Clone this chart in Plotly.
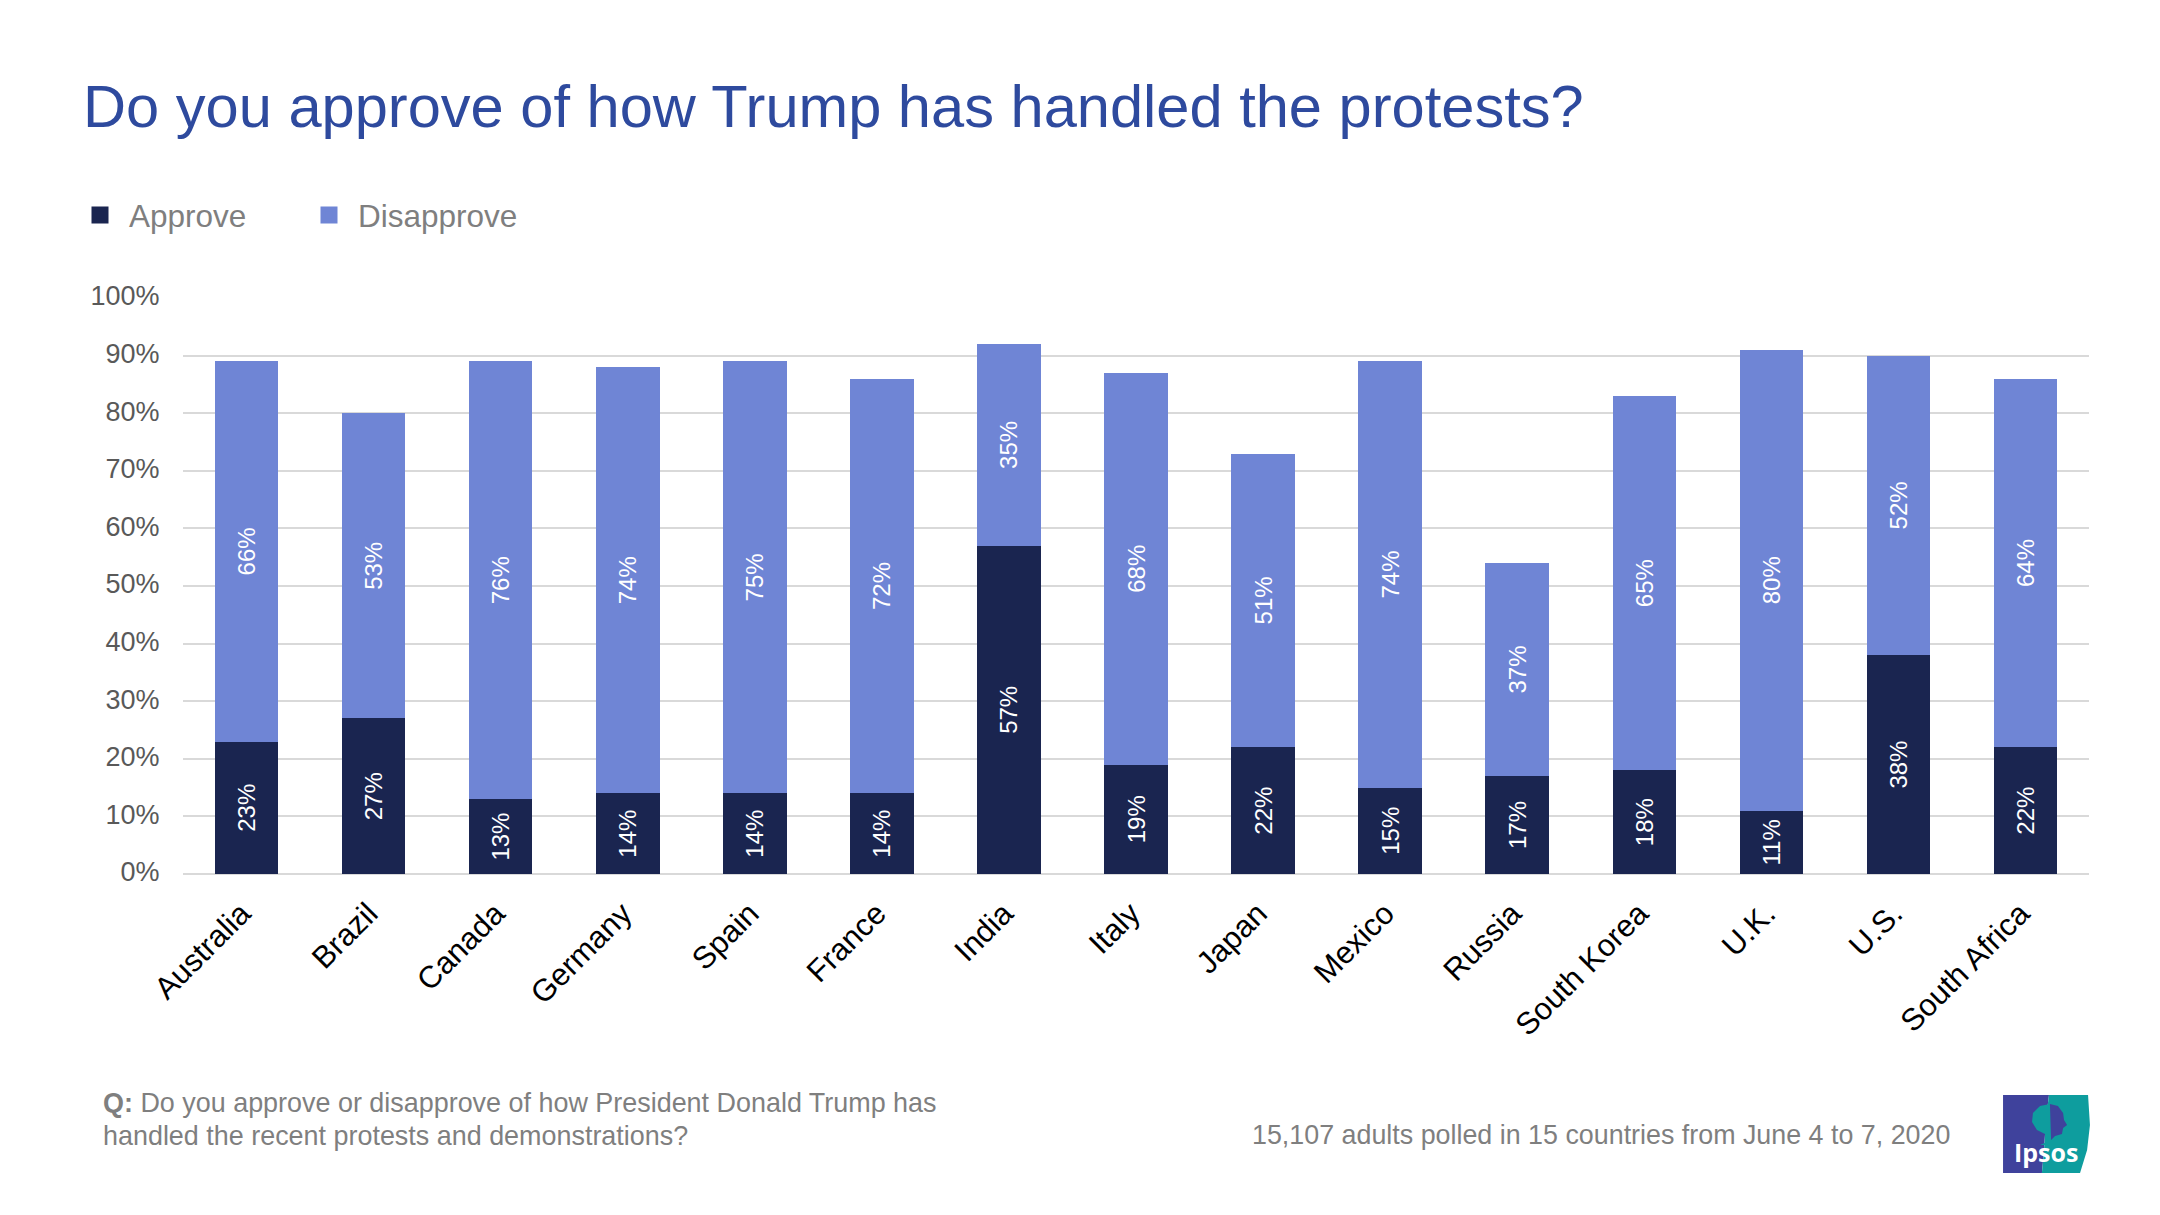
#!/usr/bin/env python3

import plotly.graph_objects as go

countries = ['Australia', 'Brazil', 'Canada', 'Germany', 'Spain', 'France', 'India', 'Italy',
             'Japan', 'Mexico', 'Russia', 'South Korea', 'U.K.', 'U.S.', 'South Africa']
approve = [23, 27, 13, 14, 14, 14, 57, 19, 22, 15, 17, 18, 11, 38, 22]
disapprove = [66, 53, 76, 74, 75, 72, 35, 68, 51, 74, 37, 65, 80, 52, 64]
y_ticks = [0, 10, 20, 30, 40, 50, 60, 70, 80, 90, 100]
y_tick_labels = ['0%', '10%', '20%', '30%', '40%', '50%', '60%', '70%', '80%', '90%', '100%']

NAVY = '#1A2550'
PERIWINKLE = '#6F85D5'
FONT = 'Liberation Sans'

# plot area in page pixels, everything outside it is placed relative to this
LEFT, RIGHT, TOP, BOTTOM = 183, 2089, 298, 874


def px_x(x):
    return (x - LEFT) / (RIGHT - LEFT)


def px_y(y):
    return (BOTTOM - y) / (BOTTOM - TOP)


def note(text, x, y, size, color='#7F7F7F', xanchor='left', family=FONT):
    return dict(text=text, xref='paper', yref='paper', x=px_x(x), y=px_y(y), showarrow=False,
                xanchor=xanchor, yanchor='middle', align='left',
                font=dict(family=family, size=size, color=color))


def logo_path(points):
    xy = [f'{px_x(x):.4f},{px_y(y):.4f}' for x, y in points]
    return 'M' + ' L'.join(xy) + ' Z'


fig = go.Figure()

for name, values, color in [('Approve', approve, NAVY), ('Disapprove', disapprove, PERIWINKLE)]:
    # labels are plain text: %{y} would pick up the ticktext wherever a value sits on a tick
    fig.add_trace(go.Bar(
        x=countries, y=values, name=name, legendgroup=name, showlegend=False,
        marker=dict(color=color, line_width=0),
        text=[f'{v}%' for v in values], textposition='inside', insidetextanchor='middle',
        textangle=-90, constraintext='none',
        textfont=dict(family=FONT, size=24, color='white'),
        hovertemplate='%{x}: %{text}<extra>' + name + '</extra>',
    ))
    # the legend swatch only gets its size from the outline, so it has its own empty trace
    fig.add_trace(go.Bar(
        x=countries[:1], y=[None], name=name, legendgroup=name,
        marker=dict(color=color, line=dict(color=color, width=5)),
    ))

blue_part = [(2003, 1095), (2049, 1095), (2046, 1120), (2044, 1150), (2042, 1173), (2003, 1173)]
teal_part = [(2049, 1095), (2088, 1095), (2090, 1125), (2087, 1150), (2080, 1173), (2042, 1173),
             (2044, 1150), (2046, 1120)]
crown = [(2050, 1104), (2040, 1106), (2033, 1113), (2032, 1122), (2037, 1130), (2045, 1134),
         (2047, 1142), (2040, 1145), (2058, 1145), (2052, 1140), (2052, 1104)]
profile = [(2050, 1104), (2058, 1106), (2063, 1113), (2064, 1120), (2067, 1125), (2063, 1128),
           (2062, 1134), (2055, 1136), (2051, 1140)]

shapes = [dict(type='path', path=logo_path(points), xref='paper', yref='paper',
               fillcolor=color, line_width=0)
          for points, color in [(blue_part, '#3F429C'), (teal_part, '#0E9D9E'),
                                (crown, '#0E9D9E'), (profile, '#3F429C')]]

annotations = [
    note('Do you approve of how Trump has handled the protests?', 81, 106, 59.6, color='#2E4A9E'),
    note('<b>Q:</b> Do you approve or disapprove of how President Donald Trump has',
         101, 1103, 26.93),
    note('handled the recent protests and demonstrations?', 101, 1136, 26.93),
    note('15,107 adults polled in 15 countries from June 4 to 7, 2020', 1952, 1135, 26.85,
         xanchor='right'),
    note('<b>Ipsos</b>', 2046, 1152, 25, color='white', xanchor='center', family='Open Sans'),
]

fig.update_layout(
    width=2160, height=1215,
    margin=dict(l=LEFT, r=2160 - RIGHT, t=TOP, b=1215 - BOTTOM),
    paper_bgcolor='white', plot_bgcolor='white',
    barmode='stack', bargap=0.5,
    font=dict(family=FONT),
    showlegend=True,
    legend=dict(orientation='h', x=px_x(71), y=px_y(215), xanchor='left', yanchor='middle',
                itemwidth=48, entrywidth=166, entrywidthmode='pixels',
                font=dict(family=FONT, size=31.5, color='#7F7F7F')),
    annotations=annotations,
    shapes=shapes,
    hovermode='closest',
)
fig.update_xaxes(
    tickangle=-45, showgrid=False, showline=False, zeroline=False,
    ticks='outside', ticklen=8, tickcolor='rgba(0,0,0,0)', ticklabelshift=-5,
    tickfont=dict(family=FONT, size=31, color='black'),
)
fig.update_yaxes(
    range=[0, 100], tickvals=y_ticks, ticktext=y_tick_labels,
    showgrid=True, gridcolor='#D9D9D9', gridwidth=2, zeroline=True, zerolinecolor='#D9D9D9',
    zerolinewidth=2, showline=False,
    ticks='outside', ticklen=17, tickcolor='rgba(0,0,0,0)', ticklabelshift=-2,
    tickfont=dict(family=FONT, size=27, color='#595959'),
)

fig.write_html('out.html', config={'displayModeBar': False},
               post_script="document.body.style.margin = '0';")
